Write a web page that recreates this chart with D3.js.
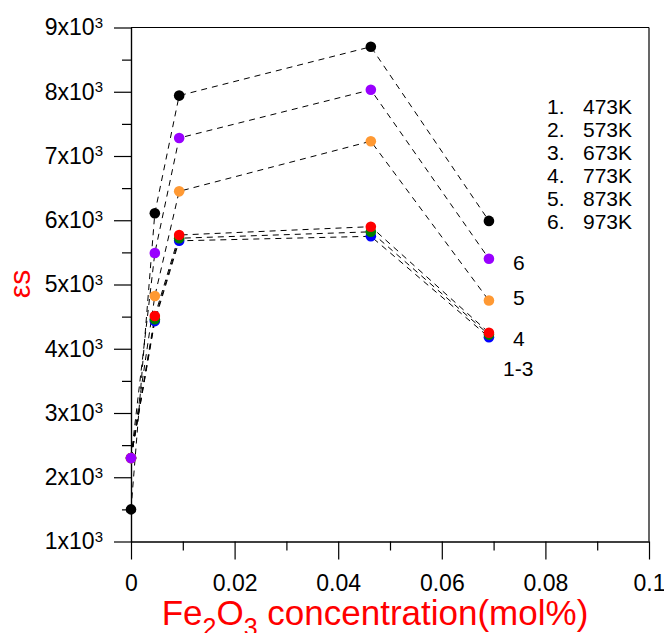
<!DOCTYPE html>
<html>
<head>
<meta charset="utf-8">
<script src="https://cdn.jsdelivr.net/npm/d3@7"></script>
<style>
  body { margin: 0; background: #fff; }
  text { font-family: "Liberation Sans", Arial, sans-serif; }
</style>
</head>
<body>
<script>
// Fe2O3 content (mol%) on x
const concentrations = [0, 0.0046, 0.0093, 0.0463, 0.0691]

// eps_s values, one array per curve
const blackVals  = [1500, 6110, 7940, 8700, 5990]
const purpleVals = [2300, 5490, 7280, 8030, 5400]
const orangeVals = [2300, 4820, 6450, 7230, 4750]
const redVals    = [2300, 4510, 5770, 5900, 4250]
const greenVals  = [2300, 4460, 5720, 5820, 4220]
const blueVals   = [2300, 4430, 5680, 5750, 4180]

const legendItems = ["1.", "2.", "3.", "4.", "5.", "6."]
const legendTemps = ["473K", "573K", "673K", "773K", "873K", "973K"]
const curveTags = ["6", "5", "4", "1-3"]
const xTicks = [0, 0.02, 0.04, 0.06, 0.08, 0.1]
const yTicks = [1000, 2000, 3000, 4000, 5000, 6000, 7000, 8000, 9000]

// drawing order: bottom first
const series = [
  { clr: "#0000ff", vals: blueVals },
  { clr: "#008000", vals: greenVals },
  { clr: "#ff0000", vals: redVals },
  { clr: "#ff9933", vals: orangeVals },
  { clr: "#9900ff", vals: purpleVals },
  { clr: "#000000", vals: blackVals }
]

const w = 664
const h = 633
const svg = d3.select("body").append("svg").attr("width", w).attr("height", h)

const x = d3.scaleLinear().domain([0, 0.1]).range([131, 649])
const y = d3.scaleLinear().domain([1000, 9000]).range([541.5, 27.5])

// frame top / right
svg.append("line").attr("x1", x(0)).attr("x2", x(0.1)).attr("y1", y(9000)).attr("y2", y(9000))
  .attr("stroke", "#000").attr("stroke-width", 1.2)
svg.append("line").attr("x1", x(0.1)).attr("x2", x(0.1)).attr("y1", y(9000)).attr("y2", y(1000))
  .attr("stroke", "#000").attr("stroke-width", 1.2)

// minor ticks
svg.append("g").attr("transform", `translate(0,${y(1000)})`)
  .call(d3.axisBottom(x).tickValues(d3.range(0.01, 0.1, 0.02)).tickSize(9).tickSizeOuter(0).tickFormat(""))
svg.append("g").attr("transform", `translate(${x(0)},0)`)
  .call(d3.axisLeft(y).tickValues(d3.range(1500, 9000, 1000)).tickSize(9).tickSizeOuter(0).tickFormat(""))

// major ticks
const xAxis = svg.append("g").attr("transform", `translate(0,${y(1000)})`)
  .call(d3.axisBottom(x).tickValues(xTicks).tickSize(18).tickSizeOuter(0).tickPadding(15)
    .tickFormat(d => d === 0 ? "0" : d3.format("~g")(d)))
const yAxis = svg.append("g").attr("transform", `translate(${x(0)},0)`)
  .call(d3.axisLeft(y).tickValues(yTicks).tickSize(17).tickSizeOuter(0).tickPadding(11))

svg.selectAll(".domain, .tick line").attr("stroke", "#000").attr("stroke-width", 1.2)
xAxis.selectAll(".tick text").attr("font-size", 23).attr("fill", "#000")
  .style("font-family", "Liberation Sans, Arial, sans-serif")
yAxis.selectAll(".tick text").each(function(d) {
  const t = d3.select(this)
  t.text(null).attr("font-size", 23).attr("fill", "#000")
    .style("font-family", "Liberation Sans, Arial, sans-serif")
  t.append("tspan").text((d / 1000) + "x10")
  t.append("tspan").attr("dy", "-0.5em").attr("font-size", 15).text("3")
})

// dashed connectors
const line = d3.line().x((d, i) => x(concentrations[i])).y(d => y(d))
series.forEach(s => {
  svg.append("path").datum(s.vals).attr("d", line)
    .attr("fill", "none").attr("stroke", "#000").attr("stroke-width", 1)
    .attr("stroke-dasharray", "6,5")
})

// markers
series.forEach(s => {
  svg.append("g").selectAll("circle").data(s.vals).enter().append("circle")
    .attr("cx", (d, i) => x(concentrations[i]))
    .attr("cy", d => y(d))
    .attr("r", 5.3)
    .attr("fill", s.clr)
})

// legend
const lg = svg.append("g").attr("font-size", 21).attr("fill", "#000")
legendItems.forEach((item, i) => {
  lg.append("text").attr("x", 547).attr("y", 114 + i * 23).text(item)
  lg.append("text").attr("x", 583).attr("y", 114 + i * 23).text(legendTemps[i])
})

// curve tags
const tagPos = [[513, 270], [513, 305], [513, 346], [503, 376]]
curveTags.forEach((tag, i) => {
  svg.append("text").attr("x", tagPos[i][0]).attr("y", tagPos[i][1])
    .attr("font-size", 21).attr("fill", "#000").text(tag)
})

// axis titles
const xt = svg.append("text").attr("x", 375).attr("y", 625).attr("text-anchor", "middle")
  .attr("font-size", 35).attr("fill", "#ff0000")
xt.append("tspan").text("Fe")
xt.append("tspan").attr("dy", 11).attr("font-size", 25).text("2")
xt.append("tspan").attr("dy", -11).text("O")
xt.append("tspan").attr("dy", 11).attr("font-size", 25).text("3")
xt.append("tspan").attr("dy", -11).text(" concentration(mol%)")

svg.append("text").attr("transform", "translate(30,284) rotate(-90)")
  .attr("text-anchor", "middle").attr("font-size", 30).attr("fill", "#ff0000").text("εs")
</script>
</body>
</html>
